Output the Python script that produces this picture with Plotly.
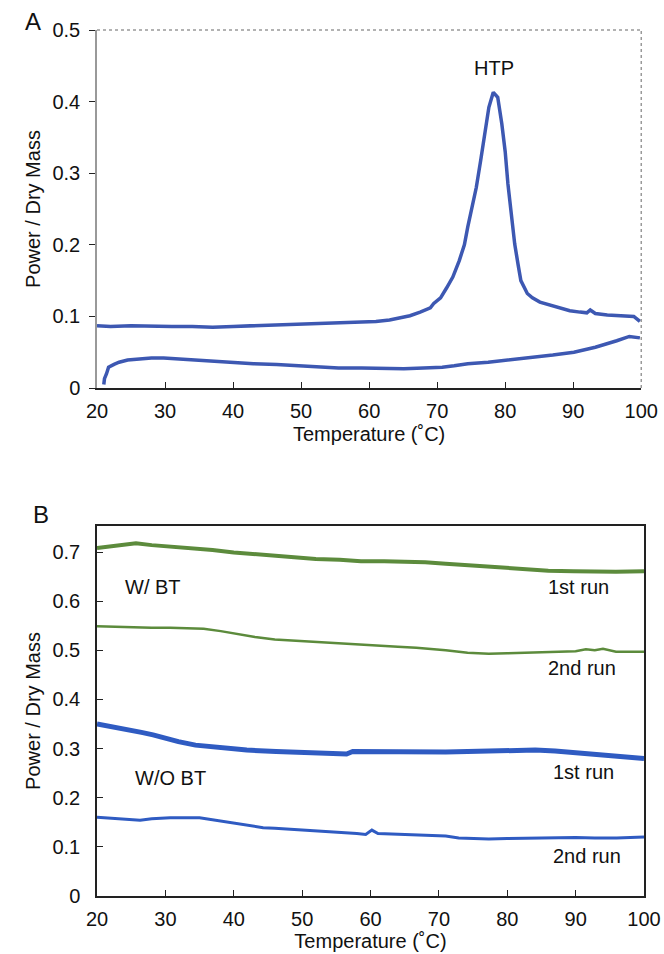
import plotly.graph_objects as go

# Panel A: heating runs (power / dry mass vs temperature)
a_run1_t = [20, 22, 25, 28, 31, 34, 37, 40, 43, 46, 49, 52, 55, 58, 61, 63, 64.5, 66, 67.5, 69, 69.5, 70.5,
            71.4, 72.3, 73.25, 74, 74.5, 75.1, 75.75, 76.4, 77, 77.6, 78.25, 78.9, 79.5, 80, 80.4, 80.9,
            81.4, 81.9, 82.3, 83.25, 84, 85.1, 87, 89.5, 91, 92, 92.5, 93.25, 95, 96.4, 98.9, 99.8]
a_run1_p = [0.087, 0.086, 0.087, 0.086, 0.086, 0.086, 0.085, 0.086, 0.087, 0.087, 0.089, 0.090, 0.090, 0.091, 0.093, 0.095, 0.098, 0.101, 0.106, 0.112, 0.118, 0.126,
            0.140, 0.155, 0.178, 0.200, 0.225, 0.250, 0.280, 0.318, 0.355, 0.392, 0.413, 0.406, 0.369, 0.330, 0.285, 0.242,
            0.201, 0.172, 0.150, 0.132, 0.126, 0.120, 0.115, 0.108, 0.106, 0.105, 0.109, 0.104, 0.102, 0.101, 0.100, 0.093]

a_run2_t = [21.0, 21.1, 21.4, 21.7, 22.5, 23.25, 24.5, 26.4, 28, 29.8, 31.5, 33.9, 37, 40.1, 43, 46.4, 49.5, 52.6,
            55.5, 58.9, 62, 65.1, 68, 70.75, 72.5, 74.5, 77.5, 80.75, 84, 87, 90.1, 93.25, 96.4, 98.25, 99.8]
a_run2_p = [0.005, 0.013, 0.020, 0.029, 0.033, 0.036, 0.039, 0.041, 0.042, 0.042, 0.041, 0.039, 0.037, 0.036, 0.034, 0.033, 0.031, 0.029,
            0.028, 0.028, 0.027, 0.027, 0.028, 0.029, 0.031, 0.034, 0.036, 0.039, 0.042, 0.046, 0.050, 0.057, 0.066, 0.072, 0.070]

# Panel B: with / without BT, first and second runs
b_wbt1_t = [20, 22, 24.5, 25.7, 28, 30.7, 34, 36.9, 40, 42, 44.3, 47, 49.3, 52, 55.5, 58.6, 62, 64.8, 68, 71, 74, 77.3, 80, 83.5, 86, 89.7, 93, 95.9, 100]
b_wbt1_p = [0.708, 0.711, 0.715, 0.718, 0.714, 0.711, 0.708, 0.704, 0.699, 0.697, 0.693, 0.690, 0.688, 0.686, 0.684, 0.681, 0.681, 0.681, 0.679, 0.676, 0.673, 0.669, 0.667, 0.664, 0.662, 0.661, 0.660, 0.660, 0.661]

b_wbt2_t = [20, 24.5, 28, 30.7, 33, 35.6, 38.1, 40.5, 43.1, 46, 49.3, 52, 55.5, 58.5, 61.7, 64, 66.7, 69, 71, 74.2, 77.3, 80, 83.5, 87.8, 90, 91.5, 92.8, 94, 95.9, 100]
b_wbt2_p = [0.549, 0.547, 0.546, 0.546, 0.545, 0.544, 0.539, 0.533, 0.527, 0.522, 0.519, 0.517, 0.514, 0.512, 0.509, 0.507, 0.505, 0.503, 0.500, 0.495, 0.493, 0.494, 0.495, 0.496, 0.498, 0.502, 0.500, 0.503, 0.497, 0.497]

b_wo1_t = [20, 22, 24.5, 26.5, 28.2, 30, 31.9, 34.4, 38.1, 41.9, 46.2, 50, 52.4, 54.9, 56.5, 57.4, 61.7, 65, 67.9, 71, 74.2, 77, 80.4, 84.1, 87, 89.7, 92, 94.1, 97, 100]
b_wo1_p = [0.350, 0.344, 0.338, 0.333, 0.328, 0.321, 0.314, 0.307, 0.302, 0.297, 0.294, 0.292, 0.291, 0.289, 0.289, 0.294, 0.293, 0.293, 0.293, 0.293, 0.294, 0.295, 0.296, 0.297, 0.295, 0.292, 0.290, 0.286, 0.284, 0.280]

b_wo2_t = [20, 23.2, 26.3, 28, 30.7, 35, 37.5, 40, 42, 44.3, 46, 49.3, 52, 55.5, 58, 59.3, 60.2, 61.1, 64.8, 68, 71, 72.9, 75, 77.3, 80, 83.5, 87, 90, 92.8, 96, 100]
b_wo2_p = [0.160, 0.157, 0.154, 0.157, 0.159, 0.159, 0.154, 0.148, 0.145, 0.139, 0.138, 0.135, 0.133, 0.130, 0.127, 0.125, 0.134, 0.127, 0.125, 0.124, 0.122, 0.118, 0.117, 0.116, 0.117, 0.118, 0.118, 0.119, 0.118, 0.118, 0.120]

x_ticks = [20, 30, 40, 50, 60, 70, 80, 90, 100]
a_yticks = [0, 0.1, 0.2, 0.3, 0.4, 0.5]
b_yticks = [0, 0.1, 0.2, 0.3, 0.4, 0.5, 0.6, 0.7]

blue_a = "#3d58b2"
blue_b = "#2f5bc2"
green = "#5c8b3c"
font = "Liberation Sans, Arial, sans-serif"

fig = go.Figure()
fig.add_trace(go.Scatter(x=a_run1_t, y=a_run1_p, mode="lines", line=dict(color=blue_a, width=3.5), xaxis="x", yaxis="y"))
fig.add_trace(go.Scatter(x=a_run2_t, y=a_run2_p, mode="lines", line=dict(color=blue_a, width=3.5), xaxis="x", yaxis="y"))
fig.add_trace(go.Scatter(x=b_wbt1_t, y=b_wbt1_p, mode="lines", line=dict(color=green, width=4), xaxis="x2", yaxis="y2"))
fig.add_trace(go.Scatter(x=b_wbt2_t, y=b_wbt2_p, mode="lines", line=dict(color=green, width=2.5), xaxis="x2", yaxis="y2"))
fig.add_trace(go.Scatter(x=b_wo1_t, y=b_wo1_p, mode="lines", line=dict(color=blue_b, width=5), xaxis="x2", yaxis="y2"))
fig.add_trace(go.Scatter(x=b_wo2_t, y=b_wo2_p, mode="lines", line=dict(color=blue_b, width=3), xaxis="x2", yaxis="y2"))

tickfont = dict(family=font, size=20, color="#111")
titlefont = dict(family=font, size=20, color="#111")

fig.update_layout(
    width=664, height=954,
    margin=dict(l=97, r=20, t=30, b=58),
    plot_bgcolor="white", paper_bgcolor="white",
    showlegend=False,
    xaxis=dict(domain=[0, 0.995], range=[20, 100], tickvals=x_ticks, showline=True, linecolor="#222", linewidth=1.5,
               ticks="inside", ticklen=6, tickcolor="#222", tickfont=tickfont, showgrid=False, zeroline=False,
               ticklabelstandoff=4, automargin=False,
               title=dict(text="Temperature (˚C)", font=titlefont, standoff=6), anchor="y"),
    yaxis=dict(domain=[0.5866, 1.0], range=[0, 0.5], tickvals=a_yticks, ticktext=["0", "0.1", "0.2", "0.3", "0.4", "0.5"],
               showline=True, linecolor="#999", linewidth=1.5, ticks="outside", ticklen=6, tickcolor="#222",
               tickfont=tickfont, showgrid=False, zeroline=False, ticklabelstandoff=5, automargin=False,
               title=dict(text="Power / Dry Mass", font=titlefont, standoff=6), anchor="x"),
    xaxis2=dict(domain=[0, 1.0], range=[20, 100], tickvals=x_ticks, showline=True, mirror=True, linecolor="#222", linewidth=1.5,
                ticks="inside", ticklen=6, tickcolor="#222", tickfont=tickfont, showgrid=False, zeroline=False,
                ticklabelstandoff=4, automargin=False,
                title=dict(text="Temperature (˚C)", font=titlefont, standoff=2), anchor="y2"),
    yaxis2=dict(domain=[0, 0.4273], range=[0, 0.753], tickvals=b_yticks, ticktext=["0", "0.1", "0.2", "0.3", "0.4", "0.5", "0.6", "0.7"],
                showline=True, mirror=True, linecolor="#222", linewidth=1.5, ticks="inside", ticklen=6, tickcolor="#222",
                tickfont=tickfont, showgrid=False, zeroline=False, ticklabelstandoff=11, automargin=False,
                title=dict(text="Power / Dry Mass", font=titlefont, standoff=6), anchor="x2"),
)

# dotted frame on top and right of panel A
fig.add_shape(type="line", xref="x domain", yref="y domain", x0=0, x1=1, y0=1, y1=1,
              line=dict(color="#999", width=1.5, dash="dot"))
fig.add_shape(type="line", xref="x domain", yref="y domain", x0=1, x1=1, y0=0, y1=1,
              line=dict(color="#999", width=1.5, dash="dot"))

ann_font = dict(family=font, size=20, color="#111")
fig.add_annotation(x=-0.135, y=1.028, xref="paper", yref="paper", text="A", showarrow=False,
                   font=dict(family=font, size=24, color="#111"))
fig.add_annotation(x=-0.12, y=0.44, xref="paper", yref="paper", text="B", showarrow=False,
                   font=dict(family=font, size=24, color="#111"))
fig.add_annotation(x=78.3, y=0.447, xref="x", yref="y", text="HTP", showarrow=False, font=ann_font)
fig.add_annotation(x=28.2, y=0.629, xref="x2", yref="y2", text="W/ BT", showarrow=False, font=ann_font)
fig.add_annotation(x=90.4, y=0.628, xref="x2", yref="y2", text="1st run", showarrow=False, font=ann_font)
fig.add_annotation(x=91.0, y=0.464, xref="x2", yref="y2", text="2nd run", showarrow=False, font=ann_font)
fig.add_annotation(x=30.7, y=0.241, xref="x2", yref="y2", text="W/O BT", showarrow=False, font=ann_font)
fig.add_annotation(x=91.2, y=0.253, xref="x2", yref="y2", text="1st run", showarrow=False, font=ann_font)
fig.add_annotation(x=91.6, y=0.081, xref="x2", yref="y2", text="2nd run", showarrow=False, font=ann_font)

# page has default body margin; remove it so the figure fills the window exactly
fig.write_html("out.html", config={"displayModeBar": False},
               post_script="document.body.style.margin='0';document.body.style.overflow='hidden';")
